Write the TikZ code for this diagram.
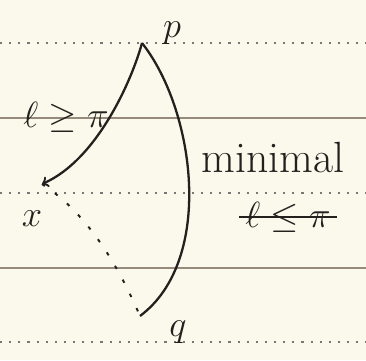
\documentclass[tikz,border=0pt]{standalone}
\usepackage{amsmath,amssymb}
\usepackage{tikz}
\usetikzlibrary{arrows,positioning,calc}
\definecolor{paper}{RGB}{251, 248, 236}
\definecolor{ink}{RGB}{35, 33, 30}
\definecolor{ruled}{RGB}{150, 138, 125}
\definecolor{dotrule}{RGB}{120, 120, 120}

\begin{document}
\begin{tikzpicture}[
        x=0.02cm, y=-0.02cm,
        rule/.style={draw=ruled, line width=0.6pt},
        dotline/.style={draw=dotrule, line width=0.8pt, dash pattern=on 1.2pt off 4pt},
        curve/.style={draw=ink, line width=1.3pt},
        lbl/.style={text=ink, font=\huge}
    ]
        % Paper
        \fill[paper] (0,0) rectangle (366,360);
        \useasboundingbox (0,0) rectangle (366,360);

        % Ruled lines
        \draw[dotline] (0,43) -- (366,43);
        \draw[rule] (0,118) -- (366,118);
        \draw[dotline] (0,193) -- (366,193);
        \draw[rule] (0,268) -- (366,268);
        \draw[dotline] (0,342) -- (366,342);

        % Points
        \coordinate (ptP) at (142,43);
        \coordinate (ptX) at (42,184);
        \coordinate (ptQ) at (140,316);

        % Labels
        \node[lbl] (lblP) at (172,33) {$p$};
        \node[lbl] (lblQ) at (178,332) {$q$};
        \node[lbl] (lblX) at (32,219) {$x$};
        \node[lbl] (lblLong) at (66,117) {$\ell\geq\pi$};
        \node[lbl, font=\Huge] (lblMin) at (273,157) {minimal};
        \node[lbl] (lblShort) at (288,217) {$\ell\leq\pi$};

        % Geodesics
        \draw[curve, ->] (ptP) .. controls (132,80) and (97,160) .. (ptX);
        \draw[curve] (ptP) .. controls (195,110) and (215,260) .. (ptQ);
        \draw[draw=ink, line width=1.1pt, dash pattern=on 2pt off 7pt] (ptX) .. controls (90,215) and (120,270) .. (ptQ);

        % Struck out
        \draw[curve] (lblShort.west) -- (lblShort.east);
    \end{tikzpicture}
\end{document}
